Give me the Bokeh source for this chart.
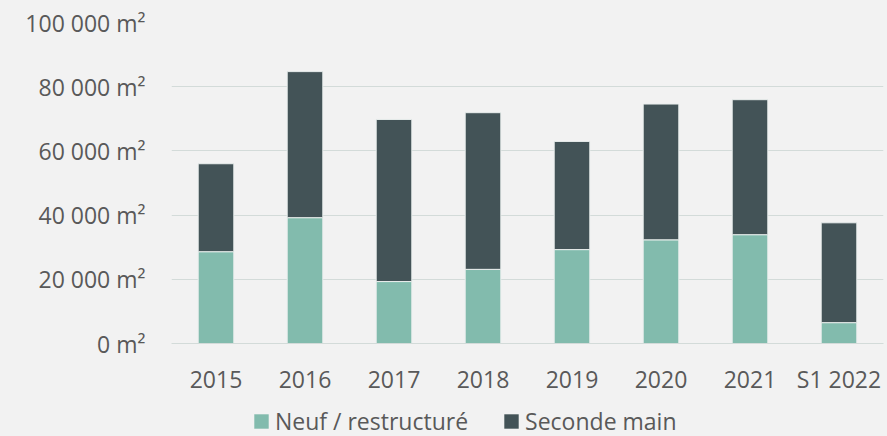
from bokeh.plotting import figure
from bokeh.layouts import column
from bokeh.models import (ColumnDataSource, FixedTicker, CustomJSTickFormatter, Legend,
                          LegendItem, Range1d)
from bokeh.embed import file_html
from bokeh.resources import INLINE

categories = ["2015", "2016", "2017", "2018", "2019", "2020", "2021", "S1 2022"]
neuf = [28600, 39200, 19300, 23100, 29250, 32300, 33900, 6500]
seconde = [27400, 45500, 50500, 48800, 33700, 42300, 42050, 31100]
y_ticks = [0, 20000, 40000, 60000, 80000, 100000]
series_names = ["Neuf / restructuré", "Seconde main"]
colors = ["#82BBAD", "#435357"]

FONT = "Open Sans"
TXT = "#595959"
BG = "#F2F2F2"
GRID = "#D3DBD9"
EDGE = "#E9EEED"

source = ColumnDataSource(dict(cat=categories, neuf=neuf, seconde=seconde))

p = figure(x_range=categories, y_range=(0, 100000), width=887, height=397,
           output_backend="svg", toolbar_location=None,
           min_border_left=171, min_border_right=4, min_border_top=22, min_border_bottom=54)
p.background_fill_color = BG
p.border_fill_color = BG
p.outline_line_color = None

r = p.vbar_stack(["neuf", "seconde"], x="cat", width=0.4, source=source,
                 color=colors, line_color=EDGE, line_width=1)

p.x_range.range_padding = 0
p.xgrid.grid_line_color = None
p.ygrid.grid_line_color = GRID
p.ygrid.grid_line_width = 1.2

p.yaxis.ticker = FixedTicker(ticks=y_ticks)
p.yaxis.formatter = CustomJSTickFormatter(code="""
return tick.toFixed(0).replace(/\\B(?=(\\d{3})+(?!\\d))/g, " ") + " m\u00b2";
""")
p.yaxis.axis_line_color = None
p.yaxis.major_tick_line_color = None
p.yaxis.minor_tick_line_color = None
p.yaxis.major_label_standoff = 20
p.yaxis.major_label_text_font = FONT
p.yaxis.major_label_text_font_size = "23px"
p.yaxis.major_label_text_color = TXT

p.xaxis.axis_line_color = GRID
p.xaxis.axis_line_width = 1.2
p.xaxis.major_tick_line_color = None
p.xaxis.minor_tick_line_color = None
p.xaxis.major_label_standoff = 13
p.xaxis.major_label_text_font = FONT
p.xaxis.major_label_text_font_size = "23px"
p.xaxis.major_label_text_color = TXT

# legend strip below the chart (dummy zero-size renderers only feed the legend swatches)
lf = figure(width=887, height=39, x_range=Range1d(0, 1), y_range=Range1d(0, 1),
            x_axis_type=None, y_axis_type=None, output_backend="svg", toolbar_location=None,
            min_border_left=171, min_border_right=4, min_border_top=8, min_border_bottom=0)
lf.background_fill_color = BG
lf.border_fill_color = BG
lf.outline_line_color = None
lf.grid.visible = False

lr = [lf.vbar(x=[0], top=[0], width=0, fill_color=c, line_color=c, line_alpha=0)
      for c in colors]
legend = Legend(items=[LegendItem(label=series_names[i], renderers=[lr[i]]) for i in range(2)],
                orientation="horizontal", location="center_left",
                background_fill_alpha=0, border_line_alpha=0,
                glyph_width=18, glyph_height=18, label_standoff=5, spacing=34,
                label_text_font=FONT, label_text_font_size="23px", label_text_color=TXT,
                padding=0, margin=81)
lf.add_layout(legend)

layout = column(p, lf, spacing=0)
html = file_html(layout, INLINE)
html = html.replace("<head>", "<head><style>html,body{background:#F2F2F2;}</style>", 1)
open("out.html", "w").write(html)
